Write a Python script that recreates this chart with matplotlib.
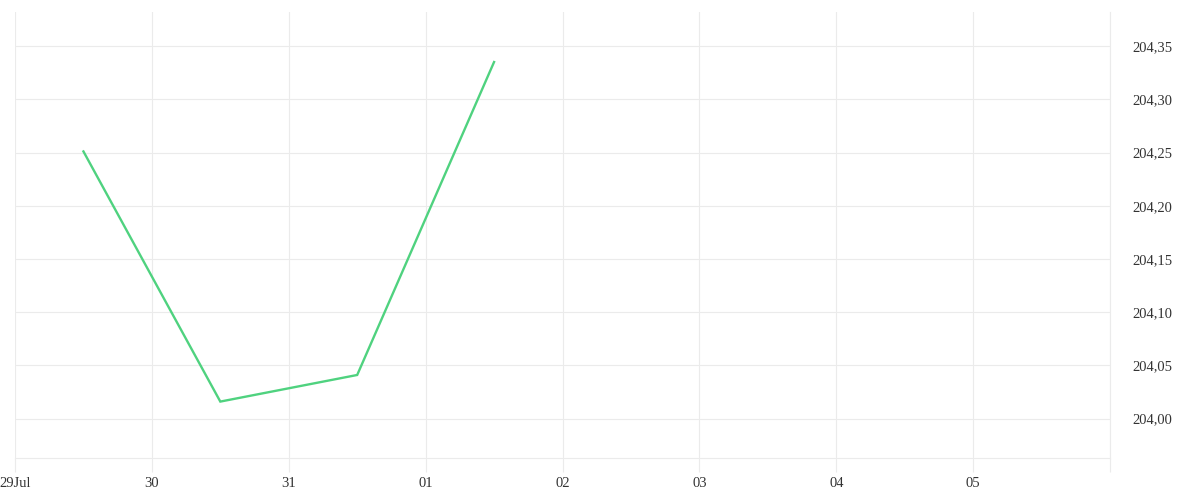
import numpy as np
import pandas as pd
import matplotlib
matplotlib.use('Agg')
import matplotlib.pyplot as plt
import matplotlib.dates as mdates

plt.rcParams['font.family'] = ['Liberation Serif', 'DejaVu Serif']

# data
dates = ['2024-07-29 12:00', '2024-07-30 12:00', '2024-07-31 12:00', '2024-08-01 12:00']
values = [204.251, 204.016, 204.041, 204.335]

tick_days = ['2024-07-29', '2024-07-30', '2024-07-31', '2024-08-01', '2024-08-02',
             '2024-08-03', '2024-08-04', '2024-08-05', '2024-08-06']
tick_labels = ['29Jul', '30', '31', '01', '02', '03', '04', '05', '']
y_ticks = [204.00, 204.05, 204.10, 204.15, 204.20, 204.25, 204.30, 204.35]

GRID = '#ebebeb'

fig = plt.figure(figsize=(12, 5), dpi=100)
ax = fig.add_axes([0.0125, 0.084, 0.9125, 0.892])

x = pd.to_datetime(dates)
ax.plot(x, values, color='#4fd27f', linewidth=1.7, solid_joinstyle='miter')

xt = pd.to_datetime(tick_days)
ax.set_xlim(xt[0], xt[-1])
ax.set_ylim(203.963, 204.382)
ax.set_xticks(xt)
ax.set_xticklabels(tick_labels)
ax.set_yticks(y_ticks)
ax.set_yticklabels([('%.2f' % v).replace('.', ',') for v in y_ticks])

ax.yaxis.tick_right()
ax.grid(True, color=GRID, linewidth=0.8)
ax.set_axisbelow(True)

for s in ['top', 'left']:
    ax.spines[s].set_visible(False)
for s in ['bottom', 'right']:
    ax.spines[s].set_color(GRID)
    ax.spines[s].set_linewidth(0.8)

ax.tick_params(axis='x', length=10, color=GRID, width=0.8, labelsize=10.5, pad=4, labelcolor='#333333')
ax.tick_params(axis='y', length=0, pad=16, labelsize=10.5, labelcolor='#333333')

fig.savefig('out.png', dpi=100)
